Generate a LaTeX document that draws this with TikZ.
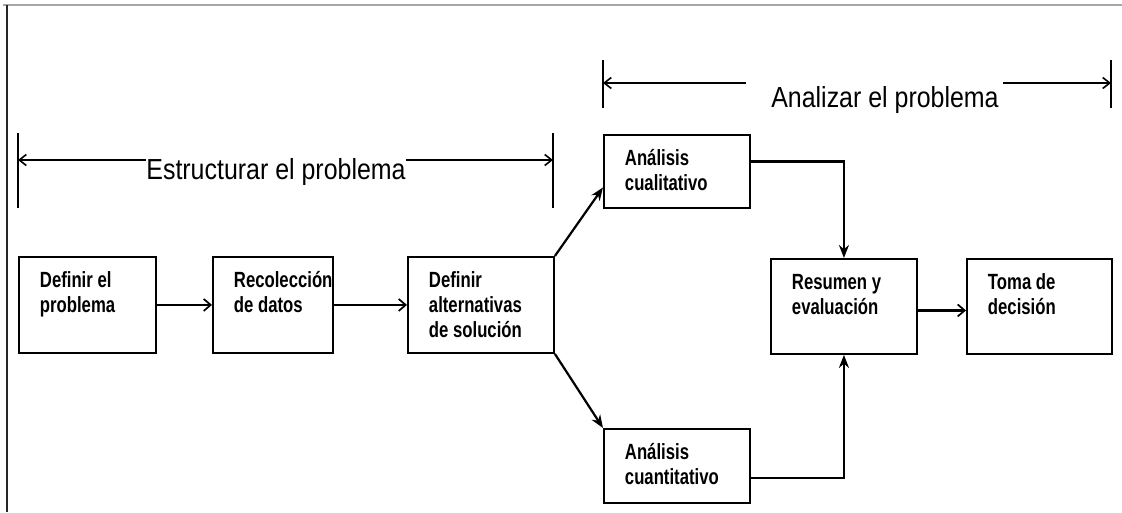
\documentclass[tikz,border=0pt]{standalone}
\usepackage{fontspec}
\usetikzlibrary{arrows.meta}
\newfontfamily\boxfont[FakeStretch=0.76]{Liberation Sans}
\newfontfamily\spanfont[FakeStretch=0.86]{Liberation Sans}
% box content: width, height, lines (first baseline 31pt below the top edge)
\newcommand{\boxtext}[3]{\parbox[c][#2][t]{#1}{\boxfont\bfseries\fontsize{22}{25}\selectfont
  \raggedright\leftskip=21pt\relax\rule{0pt}{31pt}#3}}
\tikzset{
  stepbox/.style={draw, line width=1.9pt, inner sep=0pt, anchor=north west},
  flow/.style={line width=2.3pt, -{Straight Barb[length=7pt,width=12pt,line width=1.7pt]}},
  branch/.style={line width=2.2pt, -{Stealth[length=13pt,width=10pt]}},
  tick/.style={line width=1.6pt},
  span/.style={line width=1.8pt, -{Straight Barb[length=7pt,width=11pt,line width=1.6pt]}},
  spanlabel/.style={inner sep=0pt, font=\spanfont\fontsize{29}{31}\selectfont},
}
\begin{document}
\begin{tikzpicture}[x=1pt, y=-1pt]
  \useasboundingbox (0,0) rectangle (1122,512);
  \fill[white] (0,0) rectangle (1122,512);

  % page frame
  \draw[gray!70, line width=1.6pt] (3,5) -- (1122,5);
  \draw[black!85, line width=1.6pt] (7,5) -- (7,512);

  % process boxes
  \node[stepbox] (b1) at (18,256)  {\boxtext{137pt}{96pt}{Definir el\\problema}};
  \node[stepbox] (b2) at (212,256) {\boxtext{120pt}{96pt}{Recolección\\de datos}};
  \node[stepbox] (b3) at (407,256) {\boxtext{146pt}{96pt}{Definir\\alternativas\\de solución}};
  \node[stepbox] (b4) at (603,134) {\boxtext{146pt}{73pt}{Análisis\\cualitativo}};
  \node[stepbox] (b5) at (603,428) {\boxtext{146pt}{74pt}{Análisis\\cuantitativo}};
  \node[stepbox] (b6) at (770,258) {\boxtext{146pt}{95pt}{Resumen y\\evaluación}};
  \node[stepbox] (b7) at (966,258) {\boxtext{145pt}{95pt}{Toma de\\decisión}};

  % connectors
  \draw[flow] (b1) -- (b2);
  \draw[flow] (b2) -- (b3);
  \draw[flow] ([yshift=-4pt]b6.east) -- ([yshift=-4pt]b7.west);
  \draw[branch] (b3.north east) -- ([yshift=-16pt]b4.west);
  \draw[branch] (b3.south east) -- (b5.north west);
  \draw[branch] ([yshift=10pt]b4.east) -| (b6.north);
  \draw[branch] ([yshift=-12pt]b5.east) -| (b6.south);

  % span: Estructurar el problema
  \coordinate (s1) at (18,160);
  \coordinate (s2) at (553,160);
  \draw[tick] (18,133) -- (18,208);
  \draw[tick] (553,133) -- (553,208);
  \node[spanlabel] (stxt) at (276,172) {Estructurar el problema};
  \draw[span] (stxt.west |- s1) -- (s1);
  \draw[span] (stxt.east |- s2) -- (s2);

  % span: Analizar el problema
  \coordinate (a1) at (603,83);
  \coordinate (a2) at (1111,83);
  \draw[tick] (603,60) -- (603,108);
  \draw[tick] (1111,60) -- (1111,108);
  \node[spanlabel] (atxt) at (885,100) {Analizar el problema};
  \draw[span] ([xshift=-25pt]atxt.west |- a1) -- (a1);
  \draw[span] ([xshift=4pt]atxt.east |- a2) -- (a2);
\end{tikzpicture}
\end{document}
